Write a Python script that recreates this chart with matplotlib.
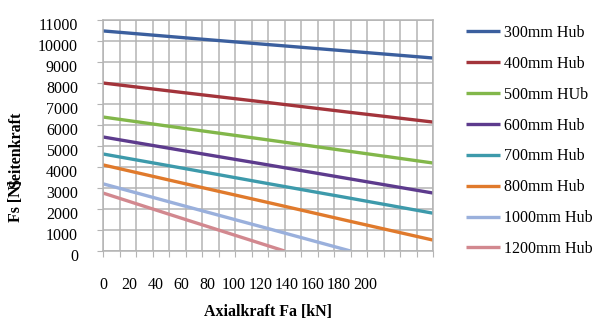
import numpy as np
import matplotlib
matplotlib.use("Agg")
import matplotlib.pyplot as plt
from matplotlib import transforms

plt.rcParams["font.family"] = ["Liberation Serif", "DejaVu Serif"]

# Werte
x_full = [0, 50, 100, 150, 200]
hub_300 = [10480, 10150, 9830, 9510, 9190]
hub_400 = [8000, 7530, 7070, 6600, 6140]
hub_500 = [6380, 5830, 5290, 4740, 4190]
hub_600 = [5430, 4760, 4100, 3430, 2760]
hub_700 = [4620, 3920, 3210, 2510, 1800]
hub_800 = [4100, 3200, 2310, 1410, 520]
x_1000 = [0, 50, 100, 150]
hub_1000 = [3200, 2130, 1070, 0]
x_1200 = [0, 50, 100, 110]
hub_1200 = [2760, 1500, 250, 0]

labels = ["300mm Hub", "400mm Hub", "500mm HUb", "600mm Hub",
          "700mm Hub", "800mm Hub", "1000mm Hub", "1200mm Hub"]
colors = ["#3b5f9e", "#a3343b", "#82b74a", "#5d3b8d",
          "#3d9aab", "#e07a2c", "#9ab0dc", "#d2888f"]
xlabels = [0, 20, 40, 60, 80, 100, 120, 140, 160, 180, 200]

series = [(x_full, hub_300), (x_full, hub_400), (x_full, hub_500), (x_full, hub_600),
          (x_full, hub_700), (x_full, hub_800), (x_1000, hub_1000), (x_1200, hub_1200)]

fs = 11.5

fig = plt.figure(figsize=(5.97, 3.21), dpi=100)
ax = fig.add_axes([103 / 597, 1 - 251 / 321, 330 / 597, 231 / 321])

for (xs, ys), lab, c in zip(series, labels, colors):
    ax.plot(xs, ys, color=c, lw=2.4, label=lab, solid_capstyle="butt")

grid_c = "#b4b4b4"
ax.set_xlim(0, 200)
ax.set_ylim(0, 11000)
ax.set_xticks(np.arange(0, 201, 10))
ax.set_yticks(np.arange(0, 11001, 1000))
ax.grid(True, color=grid_c, lw=1.1)
ax.set_axisbelow(True)
for s in ax.spines.values():
    s.set_color(grid_c)
    s.set_linewidth(1.1)
ax.tick_params(axis="x", length=4, color=grid_c, labelbottom=False)
ax.tick_params(axis="y", length=4, color=grid_c, labelsize=fs, pad=14)

# y-Beschriftung etwas nach unten versetzt wie im Original
shift = transforms.ScaledTranslation(0, -4 / 100, fig.dpi_scale_trans)
for t in ax.get_yticklabels():
    t.set_transform(t.get_transform() + shift)

# zweite Achse nur fuer die Beschriftung der x-Werte
ax2 = ax.twiny()
ax2.set_xlim(0, 252)
ax2.set_xticks(xlabels)
ax2.set_xticklabels([str(v) for v in xlabels])
ax2.xaxis.set_ticks_position("bottom")
ax2.xaxis.set_label_position("bottom")
ax2.tick_params(axis="x", length=0, pad=18.5, labelsize=fs)
for s in ax2.spines.values():
    s.set_visible(False)

ax2.set_xlabel("Axialkraft Fa [kN]", fontweight="bold", fontsize=fs, labelpad=8)

# ueberlagerte y-Beschriftung wie im Original
fig.text(16 / 597, 1 - 222 / 321, "Fs [N]", rotation=90, ha="center", va="bottom",
         fontweight="bold", fontsize=fs)
fig.text(16 / 597, 1 - 188 / 321, "Seitenkraft", rotation=90, ha="center", va="bottom",
         fontweight="bold", fontsize=fs)

fig.legend(loc="upper left", bbox_to_anchor=(466 / 597, 1 - 25 / 321), frameon=False,
           fontsize=fs, handlelength=2.1, handletextpad=0.3, labelspacing=0.93,
           borderpad=0, borderaxespad=0)

fig.savefig("out.png", dpi=100)
